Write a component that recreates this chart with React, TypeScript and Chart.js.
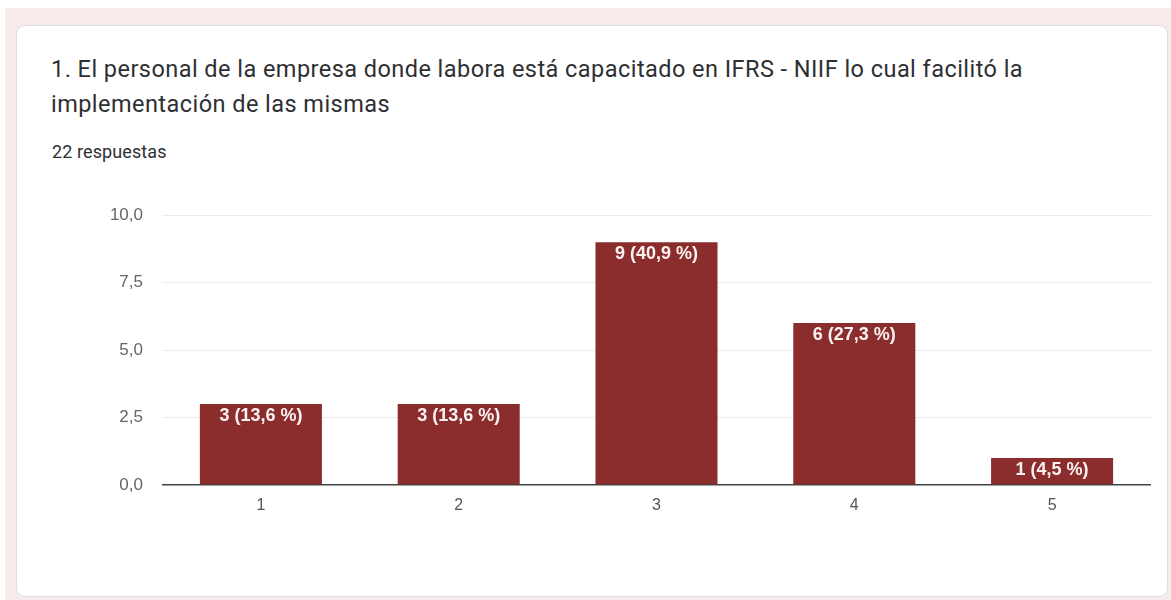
import React, { useEffect, useRef } from "react";
import { Chart, registerables } from "chart.js";

Chart.register(...registerables);

const TITLE_LINE_1 = "1. El personal de la empresa donde labora está capacitado en IFRS - NIIF lo cual facilitó la";
const TITLE_LINE_2 = "implementación de las mismas";
const SUBTITLE = "22 respuestas";

const categories = ["1", "2", "3", "4", "5"];
const counts = [3, 3, 9, 6, 1];
const percentLabels = ["13,6 %", "13,6 %", "40,9 %", "27,3 %", "4,5 %"];
const yTickValues = [0, 2.5, 5, 7.5, 10];

const BAR_COLOR = "#8c2d2d";

const barLabelPlugin = {
  id: "barLabels",
  afterDatasetsDraw(chart: any) {
    const { ctx } = chart;
    const meta = chart.getDatasetMeta(0);
    ctx.save();
    ctx.fillStyle = "#fbf2f2";
    ctx.font = 'bold 18px "Liberation Sans", Arial, sans-serif';
    ctx.textAlign = "center";
    ctx.textBaseline = "middle";
    meta.data.forEach((bar: any, i: number) => {
      ctx.fillText(`${counts[i]} (${percentLabels[i]})`, bar.x, bar.y + 12);
    });
    ctx.restore();
  },
};

export default function App() {
  const canvasRef = useRef<HTMLCanvasElement | null>(null);

  useEffect(() => {
    if (!canvasRef.current) return;
    const chart = new Chart(canvasRef.current, {
      type: "bar",
      data: {
        labels: categories,
        datasets: [
          {
            data: counts,
            backgroundColor: BAR_COLOR,
            borderWidth: 0,
            categoryPercentage: 1,
            barPercentage: 0.617,
          },
        ],
      },
      options: {
        animation: false,
        responsive: true,
        maintainAspectRatio: false,
        layout: { padding: { top: 0, right: 9, left: 0, bottom: 0 } },
        plugins: {
          legend: { display: false },
          tooltip: { enabled: false },
          title: { display: false },
        },
        scales: {
          x: {
            grid: { display: false, drawTicks: false },
            border: { display: false },
            ticks: {
              color: "#555555",
              padding: 11,
              font: { family: '"Liberation Sans", Arial, sans-serif', size: 16 },
            },
            afterFit: (scale: any) => {
              scale.height = 50;
            },
          },
          y: {
            min: 0,
            max: 10,
            afterBuildTicks: (scale: any) => {
              scale.ticks = yTickValues.map((v) => ({ value: v }));
            },
            grid: {
              drawTicks: false,
              color: (c: any) => (c.tick && c.tick.value === 0 ? "#444444" : "#ebebeb"),
              lineWidth: (c: any) => (c.tick && c.tick.value === 0 ? 1.5 : 1),
            },
            border: { display: false },
            ticks: {
              color: "#666666",
              padding: 19,
              font: { family: '"Liberation Sans", Arial, sans-serif', size: 17 },
              callback: (v: any) => Number(v).toFixed(1).replace(".", ","),
            },
            afterFit: (scale: any) => {
              scale.width = 102;
            },
          },
        },
      },
      plugins: [barLabelPlugin],
    });
    return () => chart.destroy();
  }, []);

  return (
    <div
      style={{
        position: "absolute",
        left: 0,
        top: 0,
        width: 1171,
        height: 600,
        background: "#ffffff",
        overflow: "hidden",
        fontFamily: "Roboto, Arial, sans-serif",
      }}
    >
      <div
        style={{
          position: "absolute",
          left: 5,
          top: 8,
          width: 1166,
          height: 592,
          background: "#f7ebeb",
        }}
      />
      <div
        style={{
          position: "absolute",
          left: 16,
          top: 25,
          width: 1152,
          height: 572,
          background: "#ffffff",
          border: "1px solid #dadce0",
          borderRadius: 9,
          boxSizing: "border-box",
        }}
      />
      <div
        style={{
          position: "absolute",
          left: 51,
          top: 52,
          fontSize: 23.5,
          letterSpacing: 0.45,
          lineHeight: "35px",
          color: "#2e2f32",
          whiteSpace: "nowrap",
        }}
      >
        {TITLE_LINE_1}
        <br />
        {TITLE_LINE_2}
      </div>
      <div
        style={{
          position: "absolute",
          left: 52,
          top: 141,
          fontSize: 18,
          letterSpacing: 0.1,
          lineHeight: "22px",
          color: "#2e2f32",
          whiteSpace: "nowrap",
        }}
      >
        {SUBTITLE}
      </div>
      <div style={{ position: "absolute", left: 60, top: 186, width: 1100, height: 349 }}>
        <canvas ref={canvasRef} />
      </div>
    </div>
  );
}
